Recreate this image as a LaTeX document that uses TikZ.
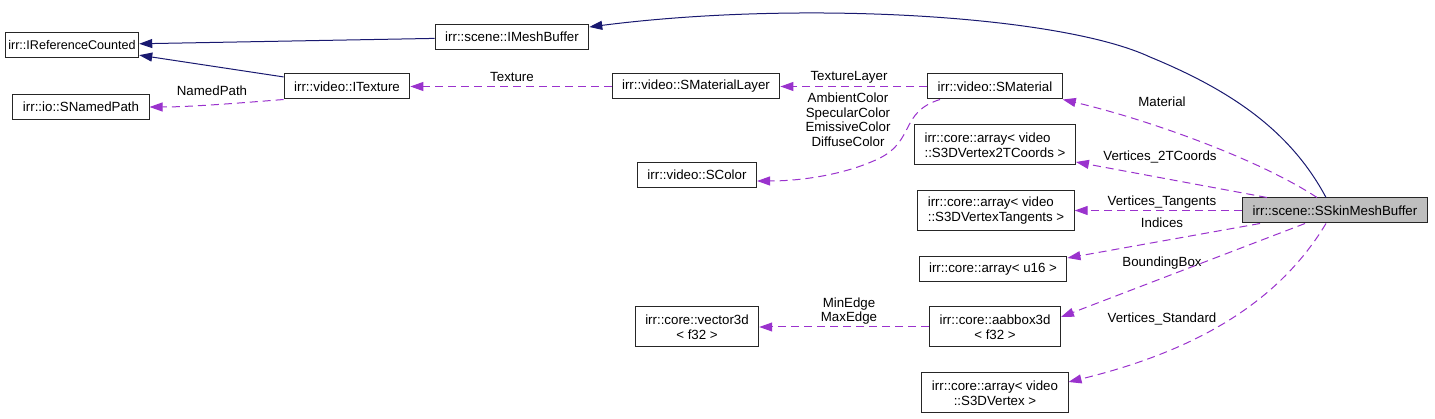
\documentclass[tikz,border=0pt]{standalone}
\usepackage{fontspec}
\setmainfont{Liberation Sans}
\usetikzlibrary{arrows.meta}
\definecolor{navyedge}{HTML}{191970}
\definecolor{memedge}{HTML}{9A32CD}
\definecolor{boxgray}{HTML}{BFBFBF}
\begin{document}
\begin{tikzpicture}[x=1pt,y=-1pt,
  cls/.style={draw=black!85, line width=1pt, fill=white, inner xsep=10pt, inner ysep=0pt,
    minimum height=25pt, font=\fontsize{13.3}{14.5}\selectfont, align=center},
  cls2/.style={cls, minimum height=40pt},
  lbl/.style={inner sep=0pt, font=\fontsize{13.3}{14.5}\selectfont, align=center},
  inh/.style={draw=navyedge, line width=1pt, -{Triangle[length=13pt,width=9pt]}},
  mem/.style={draw=memedge, line width=1pt, dash pattern=on 8pt off 5pt,
    -{Triangle[length=13pt,width=9pt]}}]
\useasboundingbox (0,0) rectangle (1435,419);
% nodes
\node[cls, inner xsep=3pt, font=\fontsize{12.6}{14.5}\selectfont] (irc) at (72,45) {irr::IReferenceCounted};
\node[cls] (imb) at (512,37) {irr::scene::IMeshBuffer};
\node[cls] (snp) at (81,107) {irr::io::SNamedPath};
\node[cls] (itex) at (347,86.5) {irr::video::ITexture};
\node[cls] (sml) at (696,86.5) {irr::video::SMaterialLayer};
\node[cls] (smat) at (995,86.5) {irr::video::SMaterial};
\node[cls] (scol) at (697,175) {irr::video::SColor};
\node[cls2, align=left] (v2t) at (995,145) {irr::core::array< video\\ ::S3DVertex2TCoords >};
\node[cls2, align=left] (vtan) at (996,210.5) {irr::core::array< video\\ ::S3DVertexTangents >};
\node[cls, fill=boxgray] (ssk) at (1335,210.5) {irr::scene::SSkinMeshBuffer};
\node[cls] (u16) at (993,269) {irr::core::array< u16 >};
\node[cls2] (vec) at (697,327) {irr::core::vector3d\\< f32 >};
\node[cls2] (aab) at (995,327) {irr::core::aabbox3d\\< f32 >};
\node[cls2] (v3d) at (995,393) {irr::core::array< video\\::S3DVertex >};
% inheritance edges
\draw[inh] ([xshift=-9pt]ssk.north) .. controls (1290,130) and (1230,90) .. (1150,57)
  .. controls (1060,15) and (800,0) .. ([yshift=-3pt]imb.north east);
\draw[inh] (imb) -- (irc);
\draw[inh] (itex) -- (irc);
% member edges
\draw[mem] (itex.south west) .. controls (240,103) and (190,107) .. (snp.east);
\node[lbl] (lnp) at (212,91) {NamedPath};
\draw[mem] (sml) -- (itex);
\node[lbl] (ltex) at (512,77) {Texture};
\draw[mem] (smat) -- (sml);
\node[lbl] (ltl) at (849,77) {TextureLayer};
\draw[mem] ([xshift=-55pt]smat.south) .. controls (900,112) and (915,140) .. (880,158)
  .. controls (845,175) and (800,181) .. ([yshift=-6pt]scol.east);
\node[lbl] (lcol) at (848,119.5) {AmbientColor\\SpecularColor\\EmissiveColor\\DiffuseColor};
\draw[mem] ([xshift=-18pt]ssk.north) .. controls (1260,160) and (1150,120) .. (smat.south east);
\node[lbl] (lmat) at (1162,102) {Material};
\draw[mem] ([xshift=-68pt]ssk.north) -- ([yshift=-17pt]v2t.east);
\node[lbl] (lv2t) at (1160,157) {Vertices\_2TCoords};
\draw[mem] (ssk.west) -- (vtan.east);
\node[lbl] (lvtan) at (1162,202) {Vertices\_Tangents};
\draw[mem] ([xshift=-75pt]ssk.south) -- ([yshift=-2pt]u16.north east);
\node[lbl] (lind) at (1162,223) {Indices};
\draw[mem] ([xshift=-30pt]ssk.south) -- ([yshift=10pt]aab.east);
\node[lbl] (lbb) at (1162,263) {BoundingBox};
\draw[mem] ([xshift=-9pt]ssk.south) .. controls (1280,300) and (1200,350) .. ([yshift=11pt]v3d.east);
\node[lbl] (lvs) at (1162,319) {Vertices\_Standard};
\draw[mem] (aab) -- (vec);
\node[lbl] (ledge) at (849,311) {MinEdge\\MaxEdge};
\end{tikzpicture}
\end{document}
